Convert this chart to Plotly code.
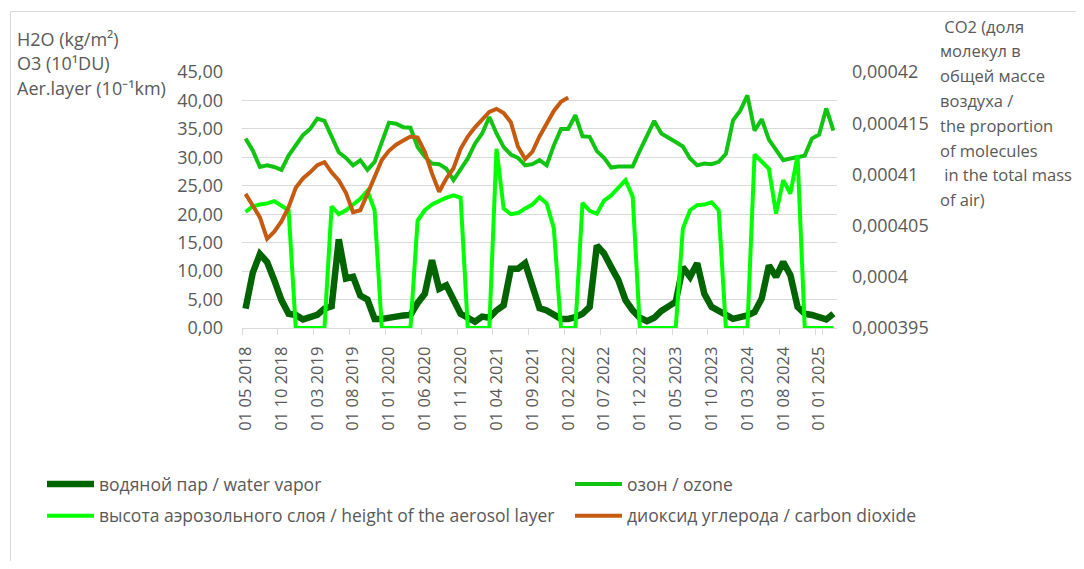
import plotly.graph_objects as go

# ---- data ----
months = [
    "01 05 2018", "01 06 2018", "01 07 2018", "01 08 2018", "01 09 2018", "01 10 2018", "01 11 2018", "01 12 2018",
    "01 01 2019", "01 02 2019", "01 03 2019", "01 04 2019", "01 05 2019", "01 06 2019", "01 07 2019", "01 08 2019",
    "01 09 2019", "01 10 2019", "01 11 2019", "01 12 2019",
    "01 01 2020", "01 02 2020", "01 03 2020", "01 04 2020", "01 05 2020", "01 06 2020", "01 07 2020", "01 08 2020",
    "01 09 2020", "01 10 2020", "01 11 2020", "01 12 2020",
    "01 01 2021", "01 02 2021", "01 03 2021", "01 04 2021", "01 05 2021", "01 06 2021", "01 07 2021", "01 08 2021",
    "01 09 2021", "01 10 2021", "01 11 2021", "01 12 2021",
    "01 01 2022", "01 02 2022", "01 03 2022", "01 04 2022", "01 05 2022", "01 06 2022", "01 07 2022", "01 08 2022",
    "01 09 2022", "01 10 2022", "01 11 2022", "01 12 2022",
    "01 01 2023", "01 02 2023", "01 03 2023", "01 04 2023", "01 05 2023", "01 06 2023", "01 07 2023", "01 08 2023",
    "01 09 2023", "01 10 2023", "01 11 2023", "01 12 2023",
    "01 01 2024", "01 02 2024", "01 03 2024", "01 04 2024", "01 05 2024", "01 06 2024", "01 07 2024", "01 08 2024",
    "01 09 2024", "01 10 2024", "01 11 2024", "01 12 2024",
    "01 01 2025", "01 02 2025", "01 03 2025",
]

water_vapor = [
    3.4, 9.7, 13.0, 11.6, 8.4, 4.9, 2.5, 2.3, 1.5, 1.9,
    2.3, 3.4, 3.8, 15.6, 8.7, 9.0, 5.7, 5.0, 1.6, 1.6,
    1.9, 2.0, 2.2, 2.3, 4.4, 6.0, 11.9, 6.9, 7.5, 4.9,
    2.5, 1.8, 1.1, 2.0, 1.8, 3.1, 4.0, 10.4, 10.4, 11.4,
    7.5, 3.5, 3.1, 2.2, 1.6, 1.6, 1.9, 2.5, 3.7, 14.5,
    13.1, 10.7, 8.4, 4.9, 3.1, 1.8, 1.2, 1.8, 3.0, 3.8,
    4.6, 10.7, 9.0, 11.4, 6.0, 3.7, 3.1, 2.2, 1.6, 1.9,
    2.2, 2.8, 5.2, 11.0, 9.0, 11.6, 9.3, 3.7, 2.5, 2.3,
    2.0, 1.5, 2.5,
]

ozone = [
    33.3, 31.2, 28.3, 28.6, 28.3, 27.8, 30.3, 32.1, 33.9, 35.0,
    36.8, 36.4, 33.6, 30.9, 29.9, 28.6, 29.5, 27.8, 29.2, 32.7,
    36.1, 35.9, 35.3, 35.2, 31.8, 30.1, 28.9, 28.8, 28.0, 26.0,
    28.0, 29.8, 32.4, 34.2, 37.1, 34.2, 31.8, 30.5, 29.9, 28.6,
    28.8, 29.5, 28.6, 32.1, 35.0, 35.0, 37.4, 33.7, 33.6, 31.1,
    29.9, 28.2, 28.4, 28.4, 28.4, 31.2, 33.9, 36.4, 34.2, 33.5,
    32.7, 31.9, 29.8, 28.6, 28.9, 28.8, 29.2, 30.6, 36.5, 38.2,
    40.9, 34.7, 36.7, 33.1, 31.2, 29.5, 29.8, 30.0, 30.3, 33.3,
    34.0, 38.6, 34.7,
]

aerosol = [
    20.4, 21.4, 21.7, 21.9, 22.3, 21.4, 20.7, 0.0, 0.0, 0.0,
    0.0, 0.0, 21.4, 20.0, 20.7, 21.6, 22.7, 24.1, 20.7, 0.0,
    0.0, 0.0, 0.0, 0.0, 18.9, 20.7, 21.7, 22.4, 22.9, 23.3,
    22.9, 0.0, 0.0, 0.0, 0.0, 31.5, 21.0, 20.0, 20.2, 21.0,
    21.7, 23.0, 21.9, 17.5, 0.0, 0.0, 0.0, 22.0, 20.6, 20.1,
    22.4, 23.3, 24.7, 26.0, 23.1, 0.0, 0.0, 0.0, 0.0, 0.0,
    0.0, 17.5, 20.7, 21.6, 21.7, 22.1, 20.7, 0.0, 0.0, 0.0,
    0.0, 30.5, 29.2, 28.0, 20.1, 26.0, 23.6, 30.3, 0.0, 0.0,
    0.0, 0.0, 0.0,
]

co2 = [
    0.0004081, 0.0004069, 0.0004058, 0.0004037, 0.0004044, 0.0004054, 0.0004068, 0.0004087, 0.0004096, 0.0004102,
    0.0004109, 0.0004112, 0.0004102, 0.0004094, 0.0004082, 0.0004063, 0.0004065, 0.0004081, 0.0004097, 0.0004114,
    0.0004123, 0.0004129, 0.0004133, 0.0004137, 0.0004136, 0.0004122, 0.0004101, 0.0004083, 0.0004096, 0.0004106,
    0.0004125, 0.0004137, 0.0004146, 0.0004154, 0.0004161, 0.0004164, 0.0004160, 0.0004151, 0.0004127, 0.0004115,
    0.0004122, 0.0004137, 0.0004150, 0.0004162, 0.0004171, 0.0004175,
] + [None] * 37

left_ticks = [0, 5, 10, 15, 20, 25, 30, 35, 40, 45]
co2_ticks = [0.000395, 0.0004, 0.000405, 0.00041, 0.000415, 0.00042]
co2_ticktext = ["0,000395", "0,0004", "0,000405", "0,00041", "0,000415", "0,00042"]
x_ticks = months[::5]

left_title = ["H2O (kg/m²)", "O3 (10¹DU)", "Aer.layer (10⁻¹km)"]
right_title = ["\u00a0CO2 (доля", "молекул в", "общей массе", "воздуха /",
               "the proportion", "of molecules", "\u00a0in the total mass", "of air)"]

names = ["водяной пар / water vapor", "озон / ozone",
         "высота аэрозольного слоя / height of the aerosol layer",
         "диоксид углерода / carbon dioxide"]

# ---- layout geometry (page pixels; the page body has an 8px margin) ----
OFF = 8
W, H = 1084 - 2 * OFF, 569 - 2 * OFF
PL, PR, PT, PB = 242, 837, 72, 328          # plot area in page pixels
L, T = PL - OFF, PT - OFF
R, B = W - (PR - OFF), H - (PB - OFF)
PW, PH = PR - PL, PB - PT


def px(x):
    return (x - PL) / PW


def py(y):
    return (PB - y) / PH


FONT = "Open Sans"
GREY = "#595959"

fig = go.Figure()
fig.add_trace(go.Scatter(x=months, y=water_vapor, mode="lines", name=names[0],
                         line=dict(color="#006400", width=6.5), legend="legend", legendgroup="a"))
fig.add_trace(go.Scatter(x=months, y=ozone, mode="lines", name=names[1],
                         line=dict(color="#12C412", width=4), legend="legend2", legendgroup="b"))
fig.add_trace(go.Scatter(x=months, y=aerosol, mode="lines", name=names[2],
                         line=dict(color="#00FF00", width=4), legend="legend", legendgroup="c"))
fig.add_trace(go.Scatter(x=months, y=co2, mode="lines", name=names[3], yaxis="y2",
                         line=dict(color="#C55A11", width=4), legend="legend2", legendgroup="d",
                         connectgaps=False))

annotations = []
for i, t in enumerate(left_title):
    annotations.append(dict(text=t, x=px(15), y=py(38.5 + i * 24.7), xref="paper", yref="paper",
                            xanchor="left", yanchor="middle", showarrow=False,
                            font=dict(family=FONT, size=18, color=GREY)))
for i, t in enumerate(right_title):
    annotations.append(dict(text=t, x=px(938), y=py(26 + i * 24.8), xref="paper", yref="paper",
                            xanchor="left", yanchor="middle", showarrow=False,
                            font=dict(family=FONT, size=16.5, color=GREY)))

legend_style = dict(orientation="v", xanchor="left", yanchor="top", bgcolor="rgba(0,0,0,0)",
                    font=dict(family=FONT, size=17.5, color=GREY), tracegroupgap=6, itemwidth=47)

fig.update_layout(
    width=W, height=H,
    margin=dict(l=L, r=R, t=T, b=B, autoexpand=False),
    paper_bgcolor="white", plot_bgcolor="white",
    separators=", ",
    font=dict(family=FONT, color=GREY),
    xaxis=dict(type="category", categoryorder="array", categoryarray=months,
               range=[-0.5, len(months) - 0.5],
               tickmode="array", tickvals=x_ticks, ticktext=x_ticks,
               tickangle=-90, tickson="boundaries", ticks="outside", ticklen=6,
               tickcolor="#D9D9D9", showline=True, linecolor="#D9D9D9", linewidth=1,
               showgrid=False, zeroline=False, ticklabelstandoff=11,
               tickfont=dict(family=FONT, size=16.5, color=GREY)),
    yaxis=dict(range=[0, 45], tickmode="array", tickvals=left_ticks, tickformat=".2f",
               showgrid=True, gridcolor="#D9D9D9", gridwidth=1, zeroline=False,
               showline=False, ticks="", ticklabelstandoff=18,
               tickfont=dict(family=FONT, size=18, color=GREY)),
    yaxis2=dict(range=[0.000395, 0.00042], overlaying="y", side="right",
                tickmode="array", tickvals=co2_ticks, ticktext=co2_ticktext,
                showgrid=False, zeroline=False, showline=False, ticks="", ticklabelstandoff=14,
                tickfont=dict(family=FONT, size=18, color=GREY)),
    legend=dict(x=px(42), y=py(466), **legend_style),
    legend2=dict(x=px(570), y=py(466), **legend_style),
    annotations=annotations,
    shapes=[dict(type="rect", xref="paper", yref="paper", x0=px(10.5), x1=px(1300),
                 y0=py(800), y1=py(11.5), line=dict(color="#D9D9D9", width=1),
                 fillcolor="rgba(0,0,0,0)", layer="below")],
)

fig.write_html("out.html")
